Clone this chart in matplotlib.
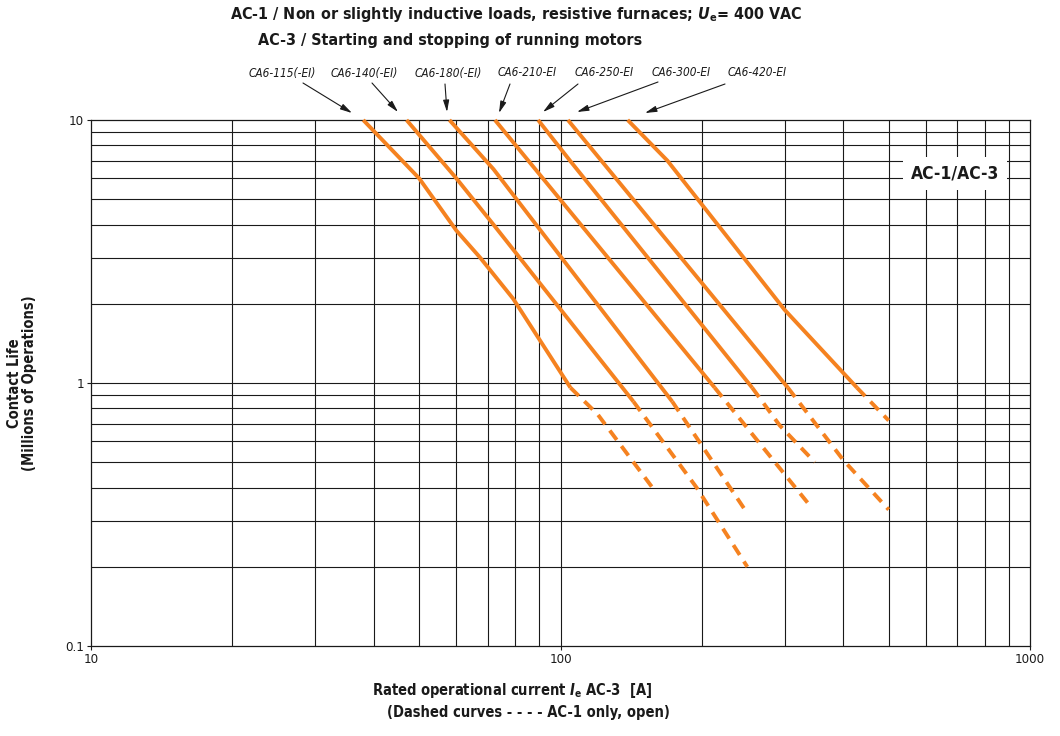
#! coding:utf-8
"""
CA6 contactor - contact life curves (AC-1 / AC-3)
"""

import matplotlib
matplotlib.use('Agg')
import matplotlib.pyplot as plt
from matplotlib.patches import Rectangle

plt.rcParams['font.family'] = ['DejaVu Sans']
plt.rcParams['font.stretch'] = 'condensed'
plt.rcParams['mathtext.fontset'] = 'custom'
plt.rcParams['mathtext.rm'] = 'DejaVu Sans:bold'
plt.rcParams['mathtext.it'] = 'DejaVu Sans:italic:bold'
plt.rcParams['mathtext.bf'] = 'DejaVu Sans:bold'

# ***************************************
# data (current [A], life [millions of ops])
# ***************************************
names = ['CA6-115(-EI)', 'CA6-140(-EI)', 'CA6-180(-EI)', 'CA6-210-EI',
         'CA6-250-EI', 'CA6-300-EI', 'CA6-420-EI']

solid_i = [
    [38, 50, 60, 67.4, 79.3, 105],
    [47, 60, 72, 143],
    [58, 72, 101, 173],
    [72.5, 213],
    [89.6, 104.8, 256],
    [103.7, 305],
    [139, 169, 300, 428],
]
solid_life = [
    [10, 6.0, 3.8, 3.0, 2.09, 0.96],
    [10, 6.0, 4.0, 0.85],
    [10, 6.5, 2.96, 0.85],
    [10, 0.96],
    [10, 7.0, 0.96],
    [10, 0.96],
    [10, 7.0, 1.9, 0.96],
]
dash_i = [
    [105, 120, 157],
    [143, 195, 250],
    [173, 247],
    [213, 343],
    [256, 293, 348],
    [305, 400, 500],
    [428, 500],
]
dash_life = [
    [0.96, 0.76, 0.40],
    [0.85, 0.40, 0.20],
    [0.85, 0.33],
    [0.96, 0.335],
    [0.96, 0.69, 0.50],
    [0.96, 0.51, 0.33],
    [0.96, 0.72],
]

x_ticks = [10, 100, 1000]
x_tick_labels = ['10', '100', '1000']
y_ticks = [0.1, 1, 10]
y_tick_labels = ['0.1', '1', '10']

ORANGE = '#f58220'
INK = '#1a1a1a'
W, H = 1060, 736


def px(x, y):
    """figure pixel (top-left origin) -> figure fraction"""
    return x / W, 1 - y / H


def main():
    fig = plt.figure(figsize=(W / 100, H / 100), dpi=100, facecolor='white')
    l, b = px(91, 646)
    r, t = px(1030, 120)
    ax = fig.add_axes([l, b, r - l, t - b])
    ax.set_xscale('log')
    ax.set_yscale('log')
    ax.set_xlim(10, 1000)
    ax.set_ylim(0.1, 10)

    # grid lines
    for dec in (10, 100):
        for k in range(2, 10):
            ax.axvline(dec * k, color=INK, lw=0.8, zorder=1)
    for dec in (0.1, 1):
        for k in range(2, 10):
            ax.axhline(dec * k, color=INK, lw=0.8, zorder=1)
    ax.axhline(1, color=INK, lw=0.8, zorder=1)
    ax.axvline(100, color=INK, lw=0.8, zorder=1)

    for s in ax.spines.values():
        s.set_linewidth(0.9)
        s.set_color(INK)

    # ticks
    ax.set_xticks(x_ticks)
    ax.set_xticklabels(x_tick_labels)
    ax.set_yticks(y_ticks)
    ax.set_yticklabels(y_tick_labels)
    ax.minorticks_off()
    ax.tick_params(axis='both', which='major', length=3, width=0.8,
                   labelsize=9.5, pad=2, colors=INK)

    # curves
    for k in range(len(names)):
        ax.plot(solid_i[k], solid_life[k], color=ORANGE, lw=2.8,
                solid_capstyle='butt', zorder=3, clip_on=False)
        ax.plot(dash_i[k], dash_life[k], color=ORANGE, lw=2.8,
                dashes=(3.0, 2.0), dash_capstyle='butt', zorder=3)

    # AC-1/AC-3 box
    x0 = (903 - 91) / 939.0
    x1 = (1007 - 91) / 939.0
    y0 = (646 - 190) / 526.0
    y1 = (646 - 157) / 526.0
    ax.add_patch(Rectangle((x0, y0), x1 - x0, y1 - y0, transform=ax.transAxes,
                           facecolor='white', edgecolor='none', zorder=2))
    ax.text((x0 + x1) / 2, (y0 + y1) / 2, 'AC-1/AC-3', transform=ax.transAxes,
            ha='center', va='center', fontsize=12.5, fontweight='bold',
            color=INK, zorder=4)

    # model labels + arrows
    label_px = [282, 364, 448, 527, 604, 681, 757]
    tail_px = [(303, 83), (372, 83), (445, 84), (510, 84), (578, 84), (658, 82), (725, 84)]
    tip_px = [(352, 113), (398, 112), (447, 112), (499, 113), (543, 112), (577, 112), (645, 113)]
    for k, name in enumerate(names):
        fig.text(*px(label_px[k], 73), name, ha='center', va='center',
                 fontsize=8.5, style='italic', color=INK)
        ax.annotate('', xy=px(*tip_px[k]), xycoords='figure fraction',
                    xytext=px(*tail_px[k]), textcoords='figure fraction',
                    arrowprops=dict(arrowstyle='-|>,head_length=0.7,head_width=0.18',
                                    lw=0.8, color=INK,
                                    shrinkA=0, shrinkB=0))

    # titles
    fig.text(*px(230, 14), 'AC-1 / Non or slightly inductive loads, resistive furnaces; '
             r'$\mathit{U}_\mathrm{e}$= 400 VAC',
             ha='left', va='center', fontsize=11.5, fontweight='bold', color=INK)
    fig.text(*px(258, 41), 'AC-3 / Starting and stopping of running motors',
             ha='left', va='center', fontsize=11.5, fontweight='bold', color=INK)

    # axis labels
    fig.text(*px(22, 383), 'Contact Life\n(Millions of Operations)', rotation=90,
             ha='center', va='center', fontsize=10.5, fontweight='bold',
             color=INK, linespacing=1.05)
    fig.text(*px(372, 690), r'Rated operational current $\mathit{I}_\mathrm{e}$ AC-3  [A]',
             ha='left', va='center', fontsize=10.5, fontweight='bold', color=INK)
    fig.text(*px(387, 712), '(Dashed curves - - - - AC-1 only, open)',
             ha='left', va='center', fontsize=10.5, fontweight='bold', color=INK)

    fig.savefig('out.png', dpi=100, facecolor='white')


if __name__ == '__main__':
    main()
